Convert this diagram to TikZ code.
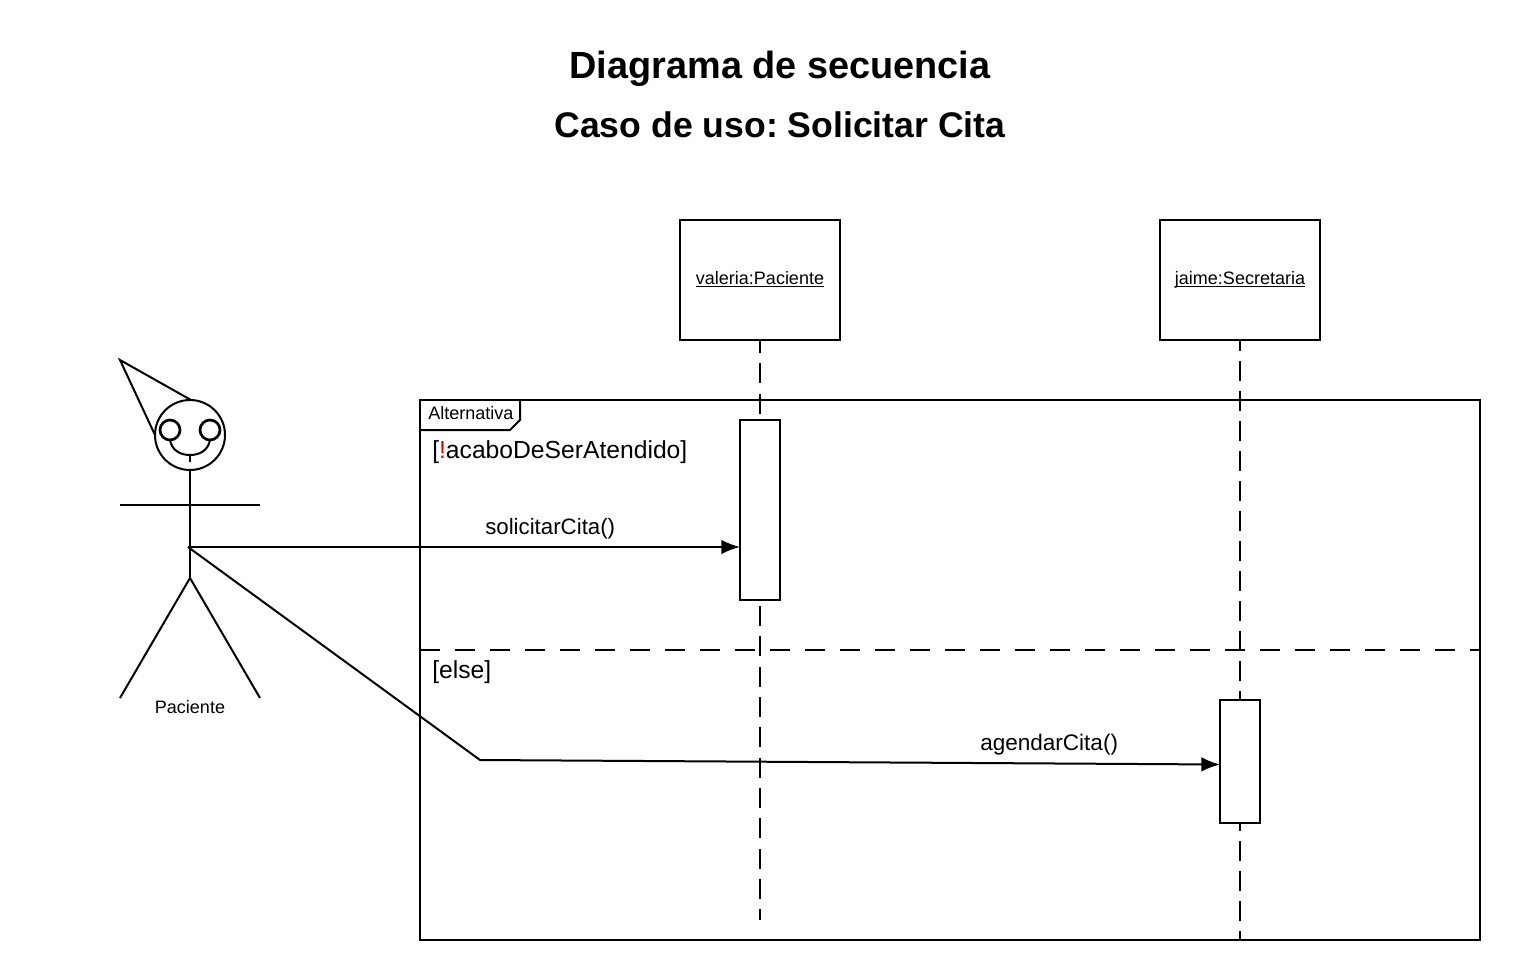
\documentclass[tikz,border=0pt]{standalone}
\usepackage{fontspec}
\setmainfont{Liberation Sans}
\usetikzlibrary{arrows.meta}
\definecolor{exred}{RGB}{230,0,0}
\newcommand{\fsz}[1]{\fontsize{#1}{#1}\selectfont}
\newcommand{\ul}[1]{\underline{\smash{#1}}}
\frenchspacing
\tikzset{
  x=0.75pt,y=-0.75pt,
  line/.style={draw=black,line width=1.5pt,line cap=butt,line join=miter},
  life/.style={line,dash pattern=on 15pt off 7.5pt,dash phase=7.5pt},
  sepline/.style={line,dash pattern=on 15pt off 11.25pt},
  boxn/.style={line,fill=white,minimum width=120pt,minimum height=90pt,inner sep=0pt,font=\fsz{13.5},text height=10pt,text depth=3.6pt},
  activation/.style={line,fill=white,minimum width=30pt,inner sep=0pt},
  eye/.style={line,line width=2pt,circle,minimum size=15pt,inner sep=0pt},
  msg/.style={line,-{Latex[length=14pt,width=11pt,sharp]}},
  lbl/.style={inner sep=0pt,anchor=base west,font=\fsz{16.7}},
  grd/.style={inner sep=0pt,anchor=base west,font=\fsz{18.5}},
  ttl/.style={inner sep=0pt,anchor=base,font=\bfseries\fsz{#1}},
}
\begin{document}
\begin{tikzpicture}
\useasboundingbox (0,0) rectangle (1520,980);
\node[ttl=28.4] (t1) at (780,78.5) {Diagrama de secuencia};
\node[ttl=26.7] (t2) at (780,138) {Caso de uso: Solicitar Cita};
% lifelines
\node[boxn] (val) at (760,280) {\ul{valeria:Paciente}};
\node[boxn] (jai) at (1240,280) {\ul{jaime:Secretaria}};
\coordinate (valend) at (760,920);
\coordinate (jaiend) at (1240,940);
\draw[life,dash pattern=on 15pt off 7.75pt,dash phase=6pt] (val.south) -- (valend);
\draw[life] (jai.south) -- (jaiend);
% frame
\coordinate (fa) at (420,400);
\coordinate (fb) at (1480,940);
\draw[line] (fa) rectangle (fb);
\coordinate (sepl) at (420,650);
\coordinate (sepr) at (1480,650);
\draw[sepline] (sepl) -- (sepr);
\draw[line] (420,430) -- (510,430) -- (520,420) -- (520,400);
\node[inner sep=0pt,anchor=base west,font=\fsz{13.5}] (alt) at (428,419) {Alternativa};
\node[grd] (g1) at (432,458) {[{\color{exred}!}acaboDeSerAtendido]};
\node[grd] (g2) at (432,678) {[else]};
% activations
\node[activation,minimum height=135pt] (a1) at (760,510) {};
\node[activation,minimum height=92.25pt] (a2) at (1240,761.5) {};
% actor
\coordinate (hat) at (120,360);
\node[line,circle,minimum size=52.5pt,inner sep=0pt] (head) at (190,435) {};
\node[eye] (el) at (170,430) {};
\node[eye] (er) at (210,430) {};
\draw[line] (191,400) -- (hat) -- (155,435);
\draw[line] (170,440) .. controls (172,451) and (181,455) .. (190,455) .. controls (199,455) and (208,451) .. (210,440);
\draw[line] (190,455) -- (190,462);
\coordinate (hip) at (190,578);
\coordinate (hand) at (188,547);
\draw[line] (head.south) -- (hip);
\draw[line] (120,505) -- (260,505);
\draw[line] (120,698) -- (hip) -- (260,698);
\node[inner sep=0pt,anchor=base,font=\fsz{13.5}] (pac) at (190,713) {Paciente};
% messages
\coordinate (m1end) at (740,547);
\draw[msg] (hand) -- (m1end);
\node[lbl] (m1) at (485,534.5) {solicitarCita()};
\coordinate (bend) at (480,760);
\coordinate (m2end) at (1220,764.5);
\draw[msg] (hand) -- (bend) -- (m2end);
\node[lbl,font=\fsz{16.9}] (m2) at (980,750) {agendarCita()};
\end{tikzpicture}
\end{document}
